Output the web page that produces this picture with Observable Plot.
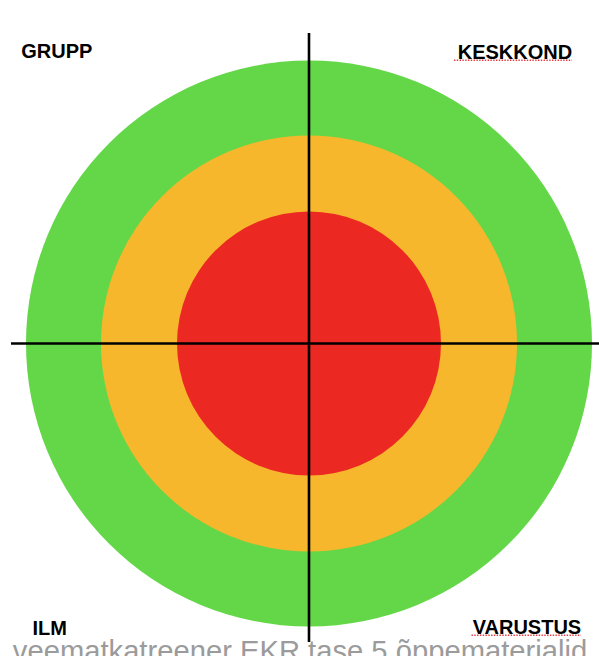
<!DOCTYPE html>
<html><head><meta charset="utf-8">
<script src="https://cdn.jsdelivr.net/npm/d3@7"></script>
<script src="https://cdn.jsdelivr.net/npm/@observablehq/plot@0.6"></script>
<style>html,body{margin:0;padding:0;background:#fff;overflow:hidden}</style>
</head><body><div id="chart"></div>
<script>
const ringNames = ["välimine", "keskmine", "sisemine"];
const ringRadii = [283, 208, 132];
const ringColors = ["#63d748", "#f7b72c", "#ec2822"];
const quadrantLabels = ["GRUPP", "KESKKOND", "ILM", "VARUSTUS"];
const caption = "veematkatreener EKR tase 5 õppematerjalid";

const rings = ringNames.map((name, i) => ({name, r: ringRadii[i], color: ringColors[i]}));
const font = "'Liberation Sans', Arial, Helvetica, sans-serif";

const labelMark = (label, frameAnchor, dx, dy, textAnchor) =>
  Plot.text([label], {text: d => d, frameAnchor, dx, dy, textAnchor, lineAnchor: "bottom",
    fontSize: 20, fontWeight: "bold", fill: "#000", fontFamily: font});

// spell-check style underlines beneath two labels
const squiggles = [
  {label: "KESKKOND", x1: 145.5, x2: 263.5, y: 283.2},
  {label: "VARUSTUS", x1: 163, x2: 272.5, y: -291.8}
];

const svg = Plot.plot({
  width: 599, height: 656,
  marginTop: 0, marginRight: 0, marginBottom: 0, marginLeft: 0,
  x: {domain: [-308.5, 290.5], axis: null},
  y: {domain: [-313, 343], axis: null},
  r: {type: "linear", domain: [0, 283], range: [0, 283]},
  style: {fontFamily: font, background: "#fff"},
  marks: [
    Plot.dot(rings, {x: () => 0, y: () => 0, r: "r", fill: "color", stroke: null}),
    Plot.text([caption], {text: d => d, frameAnchor: "bottom", dy: 4.5, textAnchor: "middle", lineAnchor: "bottom",
      fontSize: 29.2, fill: "#9b9b9b", fontFamily: font}),
    Plot.ruleX([0], {y1: 310, y2: -299, stroke: "#000", strokeWidth: 2.6}),
    Plot.ruleY([0], {x1: -297.5, x2: 290.5, stroke: "#000", strokeWidth: 2.6}),
    labelMark("GRUPP", "top-left", 20.7, 57.3, "start"),
    labelMark("KESKKOND", "top-right", -27.3, 58.3, "end"),
    labelMark("ILM", "bottom-left", 32, -22, "start"),
    labelMark("VARUSTUS", "bottom-right", -18.3, -22.7, "end"),
    Plot.ruleY(squiggles, {y: "y", x1: "x1", x2: "x2", stroke: "#e8383d", strokeWidth: 1.4, strokeDasharray: "1.4,1.4"})
  ]
});
document.getElementById("chart").append(svg);
</script></body></html>
